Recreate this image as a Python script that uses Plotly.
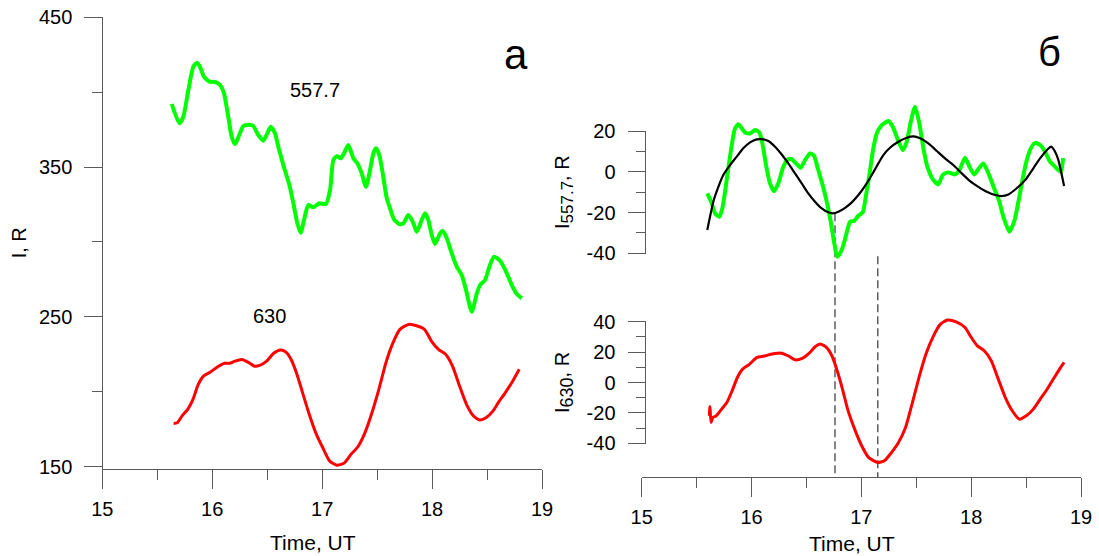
import plotly.graph_objects as go

# ---------------- data ----------------
# panel a: 557.7 nm intensity (R)
T_557_A = [15.632, 15.701, 15.737, 15.783, 15.828, 15.864, 15.895, 15.925, 15.974, 16.025,
           16.071, 16.107, 16.146, 16.177, 16.207, 16.237, 16.283, 16.338, 16.374, 16.419,
           16.465, 16.501, 16.532, 16.571, 16.601, 16.647, 16.702, 16.738, 16.774, 16.805,
           16.835, 16.874, 16.920, 16.975, 17.035, 17.072, 17.102, 17.133, 17.169, 17.199,
           17.238, 17.284, 17.320, 17.360, 17.399, 17.436, 17.466, 17.490, 17.520, 17.551,
           17.588, 17.618, 17.654, 17.702, 17.739, 17.784, 17.824, 17.861, 17.906, 17.936,
           17.966, 17.997, 18.027, 18.073, 18.097, 18.134, 18.179, 18.225, 18.270, 18.309,
           18.361, 18.407, 18.437, 18.482, 18.521, 18.564, 18.619, 18.680, 18.725, 18.771,
           18.816]
I_557_A = [392.1, 379.2, 383.6, 401.4, 417.0, 419.7, 415.9, 410.3, 407.0, 406.8,
           404.8, 399.2, 383.6, 370.2, 365.2, 369.8, 377.4, 378.3, 377.4, 371.4,
           367.6, 372.5, 376.9, 372.5, 363.6, 351.3, 338.0, 325.8, 312.4, 306.1,
           314.6, 324.6, 323.1, 325.8, 325.3, 334.6, 354.7, 357.3, 355.8, 359.2,
           364.7, 355.8, 352.5, 345.8, 336.8, 348.0, 359.2, 362.5, 358.0, 345.8,
           329.1, 322.4, 315.1, 311.9, 312.4, 317.9, 313.5, 306.8, 314.6, 319.1,
           314.6, 304.6, 298.6, 305.7, 307.4, 302.4, 292.4, 283.4, 277.9, 267.8,
           253.3, 265.6, 271.2, 274.5, 283.4, 290.1, 287.4, 279.0, 271.2, 265.2,
           262.3]
# panel a: 630 nm intensity (R)
T_630_A = [15.649, 15.681, 15.729, 15.777, 15.825, 15.873, 15.920, 15.984, 16.050, 16.112,
           16.159, 16.207, 16.271, 16.335, 16.383, 16.431, 16.495, 16.559, 16.622, 16.671,
           16.718, 16.766, 16.813, 16.878, 16.942, 17.006, 17.069, 17.133, 17.197, 17.262,
           17.325, 17.389, 17.453, 17.516, 17.580, 17.644, 17.708, 17.787, 17.867, 17.931,
           17.994, 18.058, 18.123, 18.186, 18.250, 18.313, 18.377, 18.435, 18.490, 18.553,
           18.601, 18.665, 18.729, 18.793]
I_630_A = [178.8, 179.2, 184.1, 188.1, 194.8, 204.8, 210.4, 213.1, 216.6, 218.9,
           218.9, 220.4, 221.5, 219.3, 217.0, 217.5, 220.4, 225.6, 227.8, 226.4,
           221.5, 212.6, 201.5, 185.9, 172.5, 162.5, 153.6, 150.9, 152.1, 158.1,
           163.2, 172.5, 185.9, 201.5, 219.3, 232.6, 241.6, 244.9, 243.8, 241.6,
           233.8, 228.2, 224.9, 217.0, 203.7, 191.5, 183.7, 181.0, 182.5, 187.0,
           192.5, 199.2, 206.4, 214.9]

# panel б (top): 557.7 nm variation and its fitted wave (R)
T_557_B = [15.597, 15.638, 15.668, 15.707, 15.734, 15.759, 15.789, 15.820, 15.850, 15.880,
           15.911, 15.941, 15.987, 16.032, 16.071, 16.102, 16.132, 16.168, 16.205, 16.244,
           16.290, 16.335, 16.366, 16.405, 16.448, 16.487, 16.533, 16.569, 16.599, 16.639,
           16.685, 16.721, 16.751, 16.781, 16.821, 16.861, 16.897, 16.933, 16.973, 17.013,
           17.043, 17.073, 17.109, 17.140, 17.186, 17.246, 17.286, 17.322, 17.377, 17.413,
           17.450, 17.489, 17.528, 17.565, 17.601, 17.656, 17.701, 17.741, 17.792, 17.853,
           17.893, 17.944, 17.984, 18.026, 18.066, 18.111, 18.157, 18.209, 18.257, 18.293,
           18.348, 18.391, 18.430, 18.470, 18.506, 18.543, 18.582, 18.628, 18.673, 18.719,
           18.764, 18.794, 18.819, 18.837]
D_557_B = [-10.6, -15.5, -20.4, -22.1, -18.0, -9.8, 1.7, 13.1, 21.3, 23.3,
           21.3, 19.3, 18.8, 20.5, 19.3, 13.1, 3.3, -5.7, -9.5, -5.7,
           2.5, 6.2, 6.2, 4.1, 2.0, 5.7, 9.0, 7.9, 2.5, -4.9,
           -14.7, -24.5, -34.3, -41.7, -38.4, -31.1, -24.5, -24.2, -21.6, -19.9,
           -11.4, -1.6, 11.5, 18.8, 22.9, 24.9, 22.1, 17.2, 10.6, 14.7,
           24.5, 31.9, 23.7, 11.5, 2.5, -4.1, -6.2, -1.6, -0.3, -1.3,
           0.8, 6.9, 2.5, -1.3, 1.3, 4.1, -0.8, -8.1, -14.7, -22.1,
           -29.4, -24.5, -14.7, -3.2, 5.7, 11.5, 14.2, 13.1, 9.8, 4.9,
           2.5, 0.8, -0.1, 6.7]
T_FIT_B = [15.597, 15.622, 15.652, 15.698, 15.743, 15.804, 15.865, 15.925, 15.987, 16.047,
           16.093, 16.153, 16.214, 16.275, 16.335, 16.396, 16.457, 16.517, 16.578, 16.639,
           16.699, 16.740, 16.791, 16.852, 16.913, 16.973, 17.034, 17.095, 17.155, 17.200,
           17.261, 17.337, 17.413, 17.474, 17.535, 17.610, 17.687, 17.762, 17.838, 17.914,
           17.990, 18.066, 18.142, 18.218, 18.279, 18.339, 18.415, 18.491, 18.566, 18.627,
           18.689, 18.728, 18.764, 18.794, 18.846]
D_FIT_B = [-28.6, -22.1, -14.7, -7.4, -1.6, 3.3, 7.4, 11.5, 14.4, 15.9,
           16.0, 15.1, 12.3, 8.5, 4.1, -0.8, -5.7, -10.6, -14.7, -18.0,
           -19.9, -20.4, -19.6, -17.7, -15.0, -11.4, -6.9, -1.6, 4.1, 8.2,
           11.8, 14.7, 16.7, 17.4, 16.4, 13.9, 10.2, 6.6, 3.3, -0.8,
           -4.6, -7.4, -9.8, -11.4, -11.9, -11.1, -8.1, -4.1, 1.7, 6.6,
           10.6, 12.3, 9.8, 5.7, -7.0]
# panel б (bottom): 630 nm variation (R)
T_630_B = [15.616, 15.622, 15.631, 15.648, 15.679, 15.728, 15.775, 15.823, 15.871, 15.919,
           15.983, 16.046, 16.126, 16.189, 16.270, 16.333, 16.397, 16.461, 16.525, 16.582,
           16.627, 16.684, 16.732, 16.780, 16.828, 16.875, 16.939, 17.003, 17.066, 17.147,
           17.210, 17.274, 17.338, 17.402, 17.465, 17.529, 17.593, 17.657, 17.720, 17.784,
           17.864, 17.944, 17.992, 18.056, 18.119, 18.183, 18.247, 18.311, 18.374, 18.438,
           18.502, 18.566, 18.629, 18.693, 18.757, 18.805, 18.846]
D_630_B = [-21.9, -15.8, -26.3, -23.0, -21.9, -17.5, -13.2, -5.5, 3.3, 8.8,
           12.1, 16.4, 17.6, 18.7, 19.3, 17.6, 14.9, 15.8, 19.3, 23.7,
           25.3, 23.0, 17.6, 7.7, -4.3, -17.5, -30.7, -41.6, -49.3, -52.6,
           -51.5, -46.1, -39.5, -29.6, -13.2, 4.4, 19.7, 30.7, 38.4, 41.1,
           39.9, 36.2, 30.7, 24.1, 20.9, 14.3, 2.2, -9.9, -18.6, -24.1,
           -21.9, -17.5, -10.9, -4.3, 3.3, 8.8, 13.2]
# dashed markers: times and the top value (on the 557.7 scale) where each starts
DASH_T = [16.76, 17.15]
DASH_TOP = [-20.3, -41.4]

X_TICKS = [15, 16, 17, 18, 19]
X_MINOR = [15.5, 16.5, 17.5, 18.5]
YA_TICKS = [150, 250, 350, 450]
YA_MINOR = [200, 300, 400]
YB1_TICKS = [-40, -20, 0, 20]
YB1_TEXT = ["-40", "-20", "0", "20"]
YB1_MINOR = [-30, -10, 10]
YB2_TICKS = [-40, -20, 0, 20, 40]
YB2_TEXT = ["-40", "-20", "0", "20", "40"]
YB2_MINOR = [-30, -10, 10, 30]

# ---------------- geometry (pixels of the 1099x556 page) ----------------
W, H = 1099, 556
FONT = "Liberation Sans, Arial, sans-serif"
AX_COL = "#5a5a5a"


def fx(p):
    return p / W


def fy(p):
    return 1 - p / H


def rng(v_a, p_a, v_b, p_b, p_bot, p_top):
    s = (p_b - p_a) / (v_b - v_a)
    return [v_a + (p_bot - p_a) / s, v_a + (p_top - p_a) / s]


LX0, LX1, LXY = 102.3, 542.0, 469.0        # panel a x axis
RX0, RX1, RXY = 641.7, 1081.0, 477.0       # panel б x axis
RYX = 645.5                                 # panel б y axes position

ya_rng = rng(450, 17.3, 150, 466.5, LXY, 17.3)
yb1_top_px = 60.0
yb1_rng = rng(20, 131.0, -40, 253.3, RXY, yb1_top_px)
yb2_top_px = 290.0
yb2_rng = rng(40, 321.7, -40, 443.3, RXY, yb2_top_px)

fig = go.Figure()
fig.add_trace(go.Scatter(x=T_557_A, y=I_557_A, mode="lines", xaxis="x", yaxis="y",
                         line=dict(color="#00ff00", width=4, shape="spline", smoothing=0.6),
                         name="557.7"))
fig.add_trace(go.Scatter(x=T_630_A, y=I_630_A, mode="lines", xaxis="x", yaxis="y",
                         line=dict(color="#ff0000", width=3, shape="spline", smoothing=0.6),
                         name="630"))
fig.add_trace(go.Scatter(x=T_557_B, y=D_557_B, mode="lines", xaxis="x2", yaxis="y2",
                         line=dict(color="#00ff00", width=4, shape="spline", smoothing=0.6),
                         name="557.7 var"))
fig.add_trace(go.Scatter(x=T_FIT_B, y=D_FIT_B, mode="lines", xaxis="x2", yaxis="y2",
                         line=dict(color="#000000", width=2.2, shape="spline", smoothing=0.6),
                         name="fit"))
fig.add_trace(go.Scatter(x=T_630_B, y=D_630_B, mode="lines", xaxis="x2", yaxis="y3",
                         line=dict(color="#ff0000", width=3, shape="spline", smoothing=0.6),
                         name="630 var"))

shapes = []
for t, top in zip(DASH_T, DASH_TOP):
    shapes.append(dict(type="line", xref="x2", yref="y2", x0=t, x1=t, y0=top, y1=yb1_rng[0],
                       line=dict(color="#222222", width=1.1, dash="8px,4px"), layer="below"))
# y spines of panel б, spanning the labelled tick range
shapes.append(dict(type="line", xref="paper", yref="y2", x0=fx(RYX), x1=fx(RYX),
                   y0=min(YB1_TICKS), y1=max(YB1_TICKS), line=dict(color=AX_COL, width=1)))
shapes.append(dict(type="line", xref="paper", yref="y3", x0=fx(RYX), x1=fx(RYX),
                   y0=min(YB2_TICKS), y1=max(YB2_TICKS), line=dict(color=AX_COL, width=1)))

tickfont = dict(family=FONT, size=20, color="#000000")


def xax(x0, x1, ypx):
    return dict(domain=[fx(x0), fx(x1)], range=[15, 19], anchor="free", position=fy(ypx),
                tickvals=X_TICKS, ticktext=[str(v) for v in X_TICKS], ticks="outside",
                ticklen=19, tickwidth=1, tickcolor=AX_COL, showline=True, linecolor=AX_COL,
                linewidth=1, showgrid=False, zeroline=False, tickfont=tickfont,
                ticklabelstandoff=3,
                minor=dict(tickvals=X_MINOR, ticks="outside", ticklen=10, tickwidth=1,
                           tickcolor=AX_COL, showgrid=False))


def yax(dom_bot, dom_top, r, xpx, tv, tt, mv, line):
    return dict(domain=[fy(dom_bot), fy(dom_top)], range=r, anchor="free", position=fx(xpx),
                tickvals=tv, ticktext=tt, ticks="outside", ticklen=18, tickwidth=1,
                tickcolor=AX_COL, showline=line, linecolor=AX_COL, linewidth=1,
                showgrid=False, zeroline=False, tickfont=tickfont, ticklabelstandoff=8,
                minor=dict(tickvals=mv, ticks="outside", ticklen=10, tickwidth=1,
                           tickcolor=AX_COL, showgrid=False))


ann = []


def text(s, xpx, ypx, size=20, angle=0):
    ann.append(dict(text=s, x=fx(xpx), y=fy(ypx), xref="paper", yref="paper",
                    showarrow=False, textangle=angle, xanchor="center", yanchor="middle",
                    font=dict(family=FONT, size=size, color="#000000")))


text("Time, UT", 312.7, 542.5, size=21)
text("Time, UT", 851.7, 543.3, size=21)
text("I, R", 19.3, 243, angle=-90)
text("I<sub><span style='font-size:17px'>557.7</span></sub>, R", 564, 192, angle=-90)
text("I<sub><span style='font-size:18px'>630</span></sub>, R", 564, 383, angle=-90)
text("557.7", 314.8, 90)
text("630", 269.2, 316)
text("а", 515.6, 54, size=42)
text("б", 1049, 52, size=40)

fig.update_layout(
    width=W, height=H, margin=dict(l=0, r=0, t=0, b=0, autoexpand=False),
    paper_bgcolor="white", plot_bgcolor="rgba(0,0,0,0)", showlegend=False,
    xaxis=xax(LX0, LX1, LXY),
    xaxis2=xax(RX0, RX1, RXY),
    yaxis=yax(LXY, 17.3, ya_rng, LX0, YA_TICKS, [str(v) for v in YA_TICKS], YA_MINOR, True),
    yaxis2=yax(RXY, yb1_top_px, yb1_rng, RYX, YB1_TICKS, YB1_TEXT, YB1_MINOR, False),
    yaxis3=yax(RXY, yb2_top_px, yb2_rng, RYX, YB2_TICKS, YB2_TEXT, YB2_MINOR, False),
    shapes=shapes, annotations=ann,
)

fig.write_html("out.html", config={"displayModeBar": False},
               post_script="document.body.style.margin='0';")
